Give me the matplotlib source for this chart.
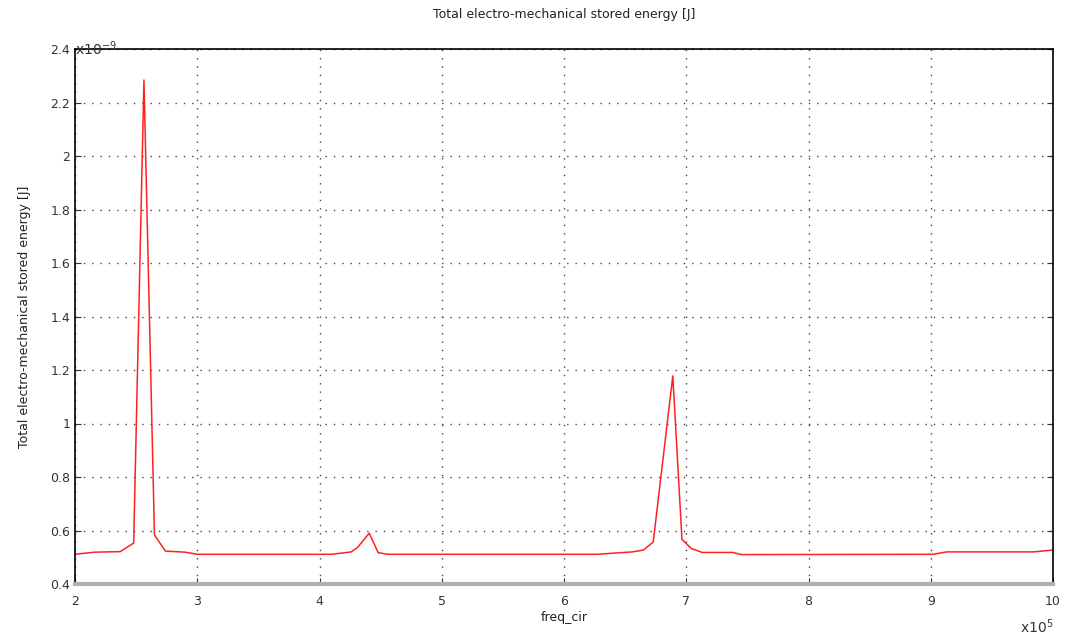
import matplotlib
matplotlib.use("Agg")
import matplotlib.pyplot as plt
from matplotlib.ticker import FuncFormatter
import numpy as np

# frequency in units of 1e5, energy in units of 1e-9 J
freq = [2.00, 2.16, 2.37, 2.48, 2.564, 2.65, 2.74, 2.90, 3.00,
        4.10, 4.26, 4.31, 4.407, 4.48, 4.56,
        6.27, 6.56, 6.65, 6.73, 6.89, 6.965, 7.04, 7.13, 7.38, 7.45,
        9.02, 9.13, 9.84, 10.00]
energy = [0.511, 0.519, 0.521, 0.553, 2.284, 0.583, 0.523, 0.519, 0.511,
          0.511, 0.520, 0.536, 0.590, 0.517, 0.511,
          0.511, 0.520, 0.527, 0.557, 1.178, 0.567, 0.533, 0.518, 0.518, 0.510,
          0.511, 0.520, 0.520, 0.527]

fig = plt.figure(figsize=(10.66, 6.35), dpi=100)
ax = fig.add_axes([75/1066, 1 - 584/635, (1053 - 75)/1066, (584 - 49)/635])

ax.plot(freq, energy, color="#ff2020", lw=1.1)

ax.set_xlim(2, 10)
ax.set_ylim(0.4, 2.4)
ax.set_xticks(np.arange(2, 11, 1))
ax.set_yticks(np.arange(0.4, 2.41, 0.2))
fmt = FuncFormatter(lambda v, p: "%g" % round(v, 2))
ax.xaxis.set_major_formatter(fmt)
ax.yaxis.set_major_formatter(fmt)
ax.tick_params(direction="in", length=4, labelsize=9, colors="#333333",
               top=False, right=True)
ax.tick_params(axis="x", pad=8)

# sparse dotted grid like the original
ax.grid(True, color="#444444", linestyle=(0, (1, 5)), linewidth=1.0)

for s in ["left", "right", "top"]:
    ax.spines[s].set_color("black")
    ax.spines[s].set_linewidth(1.2)
ax.spines["bottom"].set_color("#b0b0b0")
ax.spines["bottom"].set_linewidth(3)

ax.set_title("Total electro-mechanical stored energy [J]", fontsize=9,
             color="#222222", pad=22)
ax.set_xlabel("freq_cir", fontsize=9, color="#222222", labelpad=2)
ax.set_ylabel("Total electro-mechanical stored energy [J]", fontsize=9,
              color="#222222", labelpad=14)

ax.text(0.0, 1.0, r"x10$^{-9}$", transform=ax.transAxes, fontsize=10,
        color="#333333", va="center", ha="left")
ax.text(1.0, -0.08, r"x10$^{5}$", transform=ax.transAxes, fontsize=10,
        color="#333333", va="center", ha="right")

fig.savefig("out.png", dpi=100)
